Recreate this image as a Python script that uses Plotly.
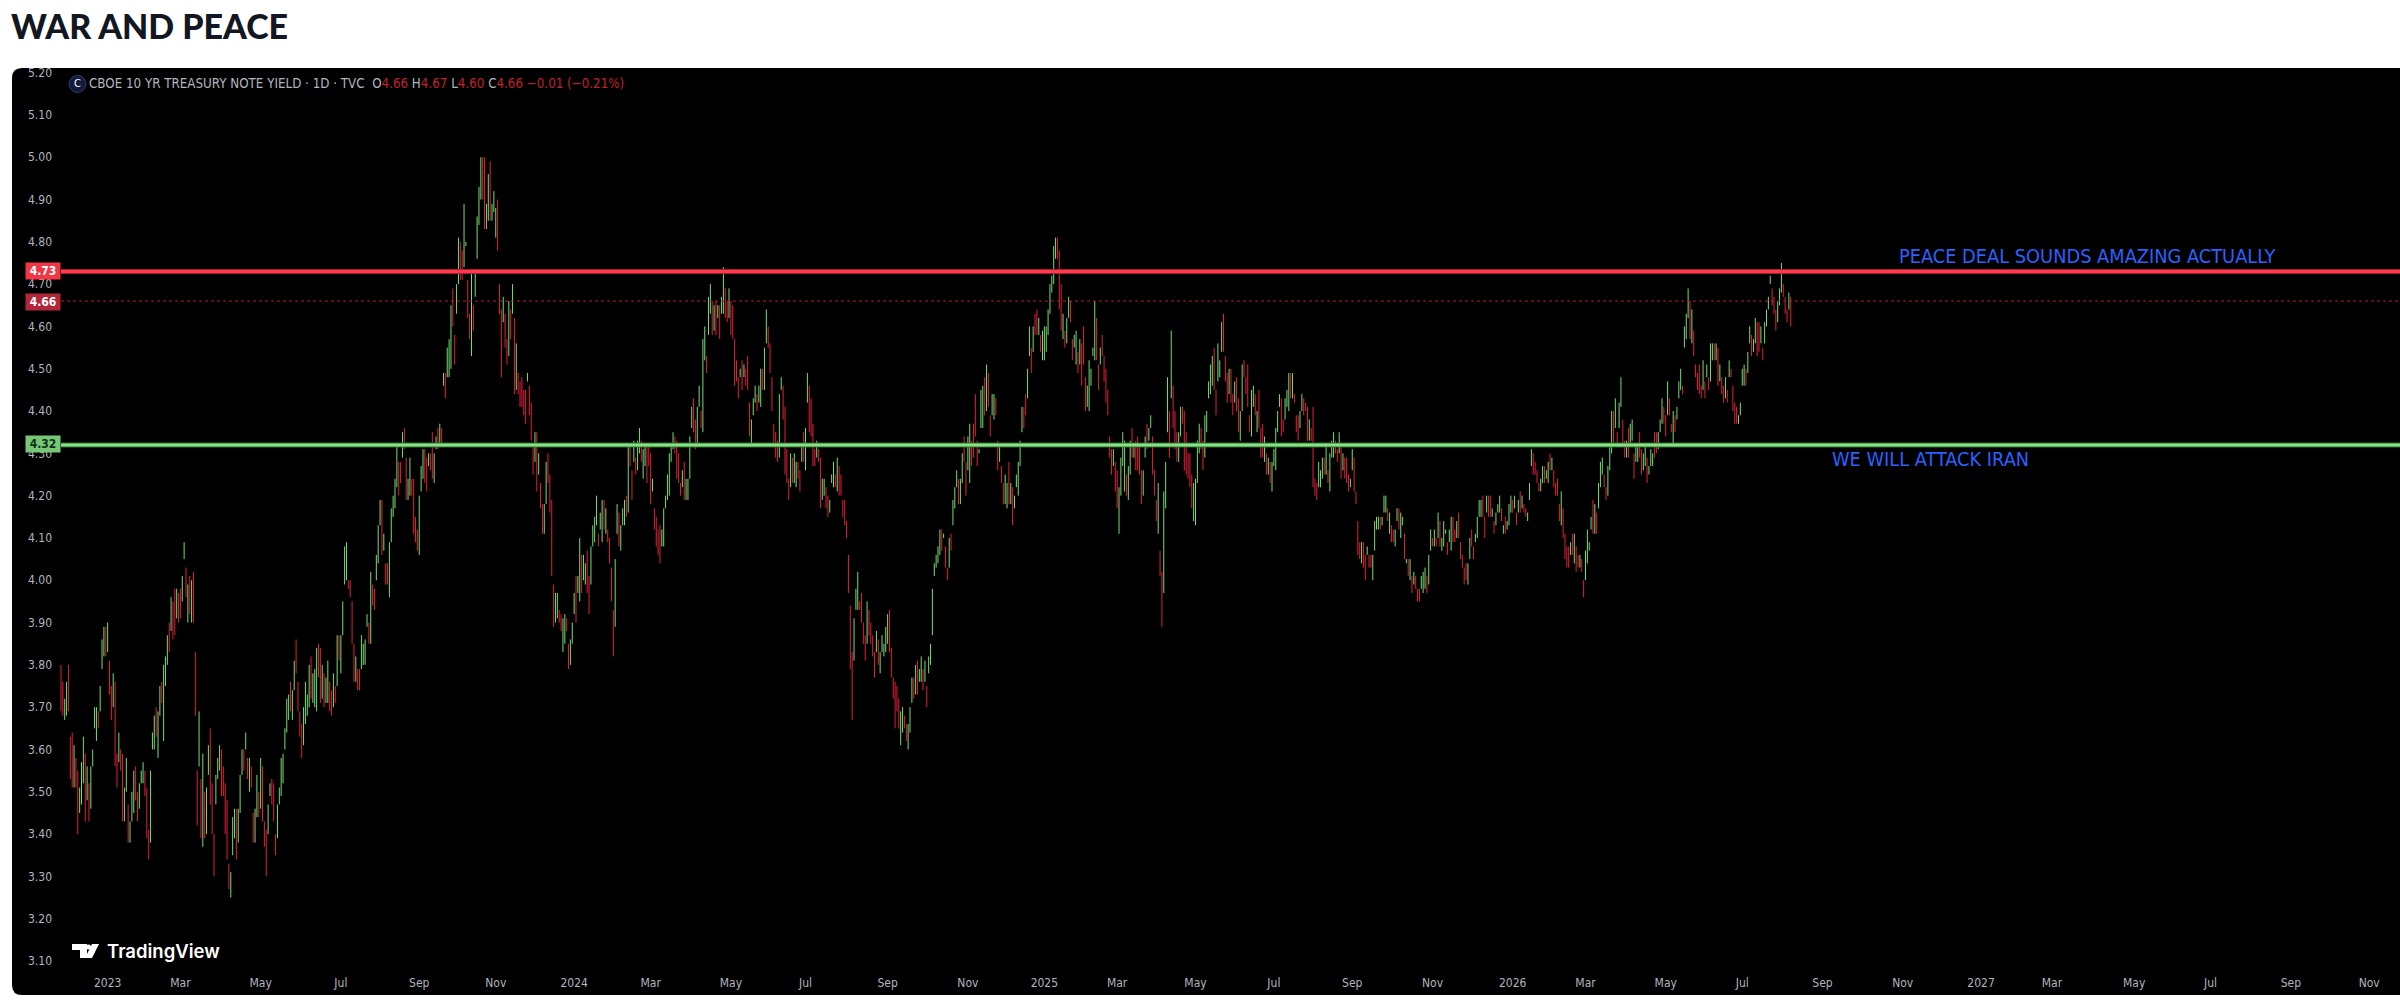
import plotly.graph_objects as go

# daily yield range in hundredths of a percent, one entry per session
highs = [
    380, 376, 372, 376, 380, 363, 364, 361, 358, 355, 351, 357, 363, 359, 356, 352, 356, 360, 370, 370,
    369, 375, 386, 389, 389, 390, 381, 375, 378, 376, 359, 364, 360, 359, 351, 358, 347, 343, 350, 355,
    356, 350, 352, 355, 357, 355, 351, 341, 355, 364, 368, 370, 369, 375, 376, 380, 382, 387, 390, 396,
    395, 398, 398, 397, 398, 401, 409, 403, 399, 401, 400, 402, 383, 355, 369, 353, 359, 350, 351, 361,
    365, 352, 340, 354, 358, 361, 360, 356, 352, 348, 333, 331, 344, 346, 346, 346, 354, 360, 360, 364,
    358, 358, 356, 345, 346, 354, 350, 358, 356, 343, 341, 347, 352, 353, 352, 340, 347, 351, 358, 359,
    365, 372, 373, 376, 374, 381, 386, 376, 369, 366, 370, 376, 373, 380, 382, 378, 379, 384, 385, 384,
    380, 378, 377, 381, 376, 374, 378, 375, 387, 387, 387, 395, 408, 409, 400, 400, 395, 385, 382, 379,
    379, 387, 385, 386, 392, 390, 402, 399, 398, 406, 413, 419, 419, 411, 404, 404, 409, 417, 420, 424,
    432, 428, 428, 435, 436, 429, 424, 429, 424, 424, 415, 412, 420, 427, 431, 431, 429, 430, 430, 435,
    430, 434, 436, 437, 436, 449, 449, 455, 457, 465, 469, 458, 470, 481, 480, 478, 489, 480, 471, 463,
    473, 465, 473, 486, 493, 500, 500, 500, 489, 496, 499, 489, 492, 488, 490, 470, 464, 467, 463, 457,
    466, 464, 470, 462, 456, 449, 447, 448, 445, 445, 449, 446, 442, 432, 435, 435, 430, 423, 418, 418,
    428, 430, 425, 419, 399, 397, 397, 393, 392, 391, 392, 391, 385, 386, 390, 397, 401, 401, 410, 406,
    406, 404, 407, 401, 408, 413, 415, 420, 411, 416, 419, 419, 417, 412, 410, 403, 393, 405, 418, 416,
    413, 417, 419, 420, 432, 432, 426, 433, 429, 433, 436, 433, 431, 432, 432, 432, 430, 424, 417, 415,
    412, 413, 412, 417, 420, 425, 430, 432, 435, 434, 433, 430, 423, 426, 428, 424, 424, 434, 441, 443,
    438, 441, 446, 440, 457, 460, 453, 467, 470, 466, 465, 466, 465, 465, 467, 474, 469, 466, 469, 466,
    465, 457, 452, 448, 450, 452, 451, 450, 453, 442, 438, 443, 446, 444, 446, 450, 450, 455, 464, 460,
    456, 448, 437, 435, 433, 444, 448, 446, 441, 431, 424, 430, 429, 430, 428, 428, 426, 432, 435, 436,
    449, 446, 443, 437, 431, 433, 431, 429, 424, 424, 422, 420, 419, 425, 428, 425, 429, 427, 425, 419,
    419, 414, 406, 394, 383, 391, 398, 402, 395, 397, 390, 387, 395, 393, 390, 387, 383, 388, 386, 383,
    387, 385, 389, 392, 393, 384, 377, 376, 375, 372, 369, 370, 368, 366, 366, 370, 377, 377, 380, 381,
    379, 382, 379, 381, 375, 382, 385, 398, 404, 406, 408, 412, 412, 411, 408, 403, 410, 411, 419, 422,
    426, 424, 424, 430, 434, 428, 434, 437, 433, 437, 444, 433, 431, 445, 446, 448, 451, 449, 439, 444,
    444, 443, 433, 432, 427, 423, 425, 423, 428, 423, 422, 420, 425, 428, 433, 441, 441, 444, 450, 460,
    455, 460, 463, 464, 462, 458, 459, 460, 460, 464, 470, 472, 479, 481, 481, 478, 470, 463, 459, 462,
    467, 466, 457, 458, 459, 454, 457, 456, 460, 448, 446, 452, 450, 455, 466, 462, 451, 455, 458, 453,
    450, 445, 434, 431, 431, 428, 426, 422, 429, 435, 433, 425, 427, 433, 436, 432, 433, 434, 432, 426,
    426, 434, 437, 436, 439, 434, 426, 419, 423, 407, 402, 421, 428, 448, 440, 459, 446, 440, 435, 435,
    441, 441, 440, 435, 430, 430, 425, 423, 424, 433, 437, 436, 433, 439, 440, 447, 451, 453, 455, 445,
    456, 452, 461, 463, 453, 449, 450, 450, 444, 447, 448, 443, 440, 451, 452, 448, 451, 439, 445, 446,
    444, 440, 445, 436, 437, 434, 430, 429, 428, 428, 431, 436, 440, 444, 443, 438, 443, 445, 449, 449,
    449, 444, 439, 439, 440, 444, 443, 442, 441, 438, 436, 441, 424, 423, 428, 426, 429, 429, 432, 426,
    430, 433, 435, 433, 431, 435, 432, 430, 429, 429, 425, 424, 431, 429, 421, 414, 409, 409, 409, 406,
    408, 406, 406, 406, 414, 415, 415, 415, 415, 420, 420, 417, 416, 413, 412, 412, 417, 417, 416, 415,
    411, 405, 405, 405, 401, 402, 401, 398, 398, 401, 402, 403, 401, 406, 412, 410, 412, 410, 416, 414,
    410, 414, 412, 409, 412, 415, 415, 412, 414, 416, 409, 406, 403, 404, 404, 410, 412, 408, 411, 415,
    419, 419, 420, 415, 420, 420, 420, 417, 414, 416, 418, 420, 417, 413, 415, 414, 418, 420, 419, 420,
    416, 419, 421, 420, 418, 417, 416, 423, 431, 430, 428, 426, 423, 424, 427, 427, 426, 428, 430, 429,
    426, 423, 424, 418, 421, 417, 411, 408, 408, 409, 411, 411, 408, 406, 406, 405, 400, 407, 412, 409,
    415, 419, 418, 416, 423, 428, 429, 425, 422, 427, 432, 440, 440, 443, 435, 442, 448, 438, 433, 433,
    436, 437, 438, 430, 432, 432, 435, 431, 430, 432, 429, 427, 431, 430, 435, 435, 435, 438, 443, 441,
    439, 447, 443, 437, 440, 439, 441, 447, 450, 446, 460, 463, 469, 466, 464, 459, 451, 449, 451, 446,
    452, 447, 451, 448, 456, 456, 456, 456, 455, 451, 448, 446, 448, 445, 452, 450, 446, 442, 441, 439,
    442, 450, 451, 450, 454, 460, 458, 457, 462, 461, 461, 460, 455, 461, 464, 467, 472, 469, 467, 464,
    466, 469, 475, 470, 467, 464, 468, 467,
]
lows = [
    369, 368, 367, 368, 369, 353, 351, 351, 351, 340, 345, 347, 352, 343, 348, 343, 346, 356, 365, 362,
    365, 369, 379, 382, 382, 383, 373, 367, 370, 356, 351, 357, 355, 343, 343, 350, 338, 338, 343, 345,
    348, 343, 346, 352, 352, 349, 339, 334, 338, 360, 360, 363, 358, 368, 371, 362, 375, 380, 383, 388,
    386, 387, 391, 390, 391, 395, 405, 396, 390, 392, 390, 390, 368, 342, 356, 339, 337, 339, 340, 354,
    347, 340, 330, 347, 353, 355, 349, 349, 340, 334, 327, 325, 335, 339, 334, 338, 345, 354, 355, 360,
    353, 350, 351, 338, 338, 344, 344, 346, 343, 337, 330, 340, 349, 347, 343, 335, 339, 347, 349, 352,
    360, 364, 367, 369, 367, 374, 378, 369, 363, 358, 361, 366, 368, 370, 372, 371, 370, 369, 377, 371,
    372, 370, 371, 371, 369, 368, 370, 371, 375, 381, 378, 387, 399, 400, 398, 396, 385, 376, 376, 374,
    374, 379, 380, 380, 389, 385, 385, 394, 393, 400, 404, 413, 406, 407, 399, 399, 396, 409, 415, 417,
    422, 420, 423, 429, 431, 419, 419, 420, 420, 411, 409, 407, 406, 421, 424, 423, 421, 427, 426, 424,
    423, 431, 431, 432, 432, 446, 443, 448, 448, 450, 460, 451, 463, 470, 471, 471, 474, 479, 462, 457,
    453, 459, 467, 476, 484, 490, 490, 483, 483, 485, 485, 485, 487, 481, 478, 463, 448, 461, 455, 451,
    453, 457, 463, 444, 445, 444, 441, 441, 439, 437, 447, 439, 433, 425, 428, 421, 425, 417, 411, 411,
    418, 423, 416, 401, 389, 390, 391, 390, 388, 383, 385, 388, 379, 380, 385, 392, 390, 397, 395, 397,
    400, 399, 397, 392, 399, 408, 409, 413, 408, 412, 409, 412, 411, 409, 404, 395, 382, 389, 411, 408,
    407, 413, 413, 415, 416, 427, 419, 428, 425, 426, 430, 428, 424, 427, 423, 427, 418, 421, 412, 408,
    406, 404, 408, 408, 417, 419, 420, 428, 431, 430, 424, 423, 420, 422, 419, 419, 419, 424, 436, 435,
    431, 432, 441, 436, 435, 452, 449, 458, 463, 458, 459, 458, 462, 457, 463, 463, 462, 461, 462, 458,
    457, 446, 447, 443, 448, 445, 448, 446, 445, 434, 432, 439, 442, 440, 442, 441, 445, 445, 456, 455,
    449, 440, 432, 429, 428, 429, 445, 438, 425, 423, 419, 422, 423, 423, 422, 424, 421, 428, 428, 426,
    442, 435, 434, 427, 427, 429, 428, 417, 419, 420, 417, 415, 416, 423, 422, 422, 421, 420, 420, 415,
    413, 410, 397, 379, 367, 381, 393, 393, 393, 390, 385, 381, 385, 387, 385, 382, 377, 383, 380, 378,
    383, 382, 383, 385, 383, 377, 372, 365, 369, 365, 361, 364, 365, 362, 360, 364, 371, 372, 373, 373,
    376, 376, 374, 376, 370, 378, 380, 387, 401, 403, 404, 406, 407, 410, 403, 400, 403, 407, 413, 417,
    422, 418, 418, 423, 428, 420, 426, 423, 427, 429, 434, 427, 430, 436, 436, 439, 440, 441, 434, 439,
    438, 439, 426, 428, 423, 418, 418, 417, 418, 418, 413, 417, 422, 420, 427, 435, 436, 439, 443, 453,
    449, 454, 458, 458, 458, 454, 452, 452, 454, 458, 463, 468, 470, 476, 476, 464, 459, 457, 455, 456,
    462, 461, 452, 455, 451, 449, 451, 446, 451, 440, 441, 440, 446, 453, 452, 452, 445, 451, 453, 447,
    442, 439, 429, 425, 427, 421, 417, 411, 420, 427, 421, 420, 419, 425, 429, 429, 426, 426, 425, 418,
    420, 429, 431, 433, 436, 425, 420, 414, 411, 401, 389, 397, 417, 435, 429, 443, 436, 431, 428, 428,
    434, 437, 426, 425, 424, 422, 417, 414, 413, 423, 430, 431, 426, 429, 435, 443, 444, 446, 445, 439,
    447, 448, 454, 454, 447, 442, 444, 442, 439, 442, 440, 435, 433, 440, 448, 444, 441, 435, 434, 441,
    439, 435, 436, 429, 429, 428, 425, 425, 423, 421, 427, 426, 435, 441, 434, 435, 438, 441, 440, 443,
    443, 442, 435, 433, 436, 440, 439, 440, 433, 433, 433, 422, 420, 419, 422, 422, 424, 425, 425, 423,
    421, 429, 429, 430, 428, 430, 424, 426, 424, 423, 421, 422, 426, 421, 418, 406, 405, 404, 403, 400,
    406, 403, 403, 400, 407, 412, 412, 412, 413, 416, 416, 414, 411, 409, 409, 408, 414, 412, 410, 413,
    405, 404, 401, 400, 397, 399, 398, 395, 395, 398, 397, 398, 397, 399, 407, 408, 408, 408, 410, 408,
    407, 408, 411, 406, 409, 407, 409, 409, 410, 410, 405, 403, 399, 400, 399, 405, 408, 405, 409, 410,
    415, 415, 415, 410, 416, 415, 415, 415, 411, 413, 416, 416, 414, 411, 411, 412, 413, 416, 416, 417,
    413, 416, 416, 417, 416, 415, 414, 419, 427, 425, 425, 423, 421, 421, 423, 423, 424, 423, 426, 426,
    422, 420, 420, 414, 413, 410, 405, 403, 403, 406, 406, 404, 402, 403, 403, 402, 396, 400, 404, 407,
    412, 411, 411, 411, 417, 422, 425, 422, 419, 420, 426, 430, 432, 436, 432, 436, 441, 432, 429, 429,
    429, 432, 433, 424, 428, 428, 429, 425, 426, 427, 423, 425, 427, 427, 429, 430, 431, 435, 437, 437,
    434, 439, 439, 435, 432, 435, 438, 443, 445, 444, 455, 457, 462, 457, 456, 453, 448, 445, 444, 443,
    445, 443, 448, 445, 447, 452, 452, 452, 446, 447, 444, 442, 443, 442, 448, 448, 440, 437, 437, 437,
    439, 446, 446, 446, 449, 456, 453, 454, 456, 453, 454, 456, 452, 456, 460, 464, 470, 465, 463, 459,
    461, 465, 468, 467, 463, 461, 464, 460,
]
# U = session closed up, D = session closed down
directions = (
    "DDUUDDDUDDUUUDUDUUUU" "DUUUDUDDUDDUDDUUDUUU" "DDUUUDDDUUUDUUDUUUDU" "DDUDDUUDUDUDDDUDUDUU"
    "DDDUUUDDDDDUUUDUUUDU" "DUDDUUDUDDDUUDDDUUUU" "UUUDUUDDDDUUUUDUUUDD" "UDUUDDUDUDUUUUDDDDUD"
    "DUUUUDUDDUUUDUDDUUUU" "UDDUDDUUDDDDUUUDDUDD" "UUDUDUDUUUDDUUDDUUDD" "UDUUUUDDUUDUUUDDDUDD"
    "UDUDUDDDDDUDDDUDUDDU" "UDDDDUUDDUUDDUUUDUUD" "UUDDUUUUDUUDUDDDDUUD" "UUUDUDDUDUUDUUDDDUDD"
    "DDUUUUUUUDDDDUDUUUUD" "DUUDUUDUUDUDUDUUDDUD" "DDDDUDUDDDUUUDUUDUUD" "DDDDDUUDDDDUDUUDDUDU"
    "UDDDDUDDUUDDUUUDUDDD" "DDDDDUUUDDDDUDDDDUDU" "UUUUDDDDDDUUDDUUUDUD" "UUDUDUUUUUUUDUDDUDUU"
    "UDUUDDUUDDDDUUUDUDDU" "UDDUDDUUDUDUUUUUDDUU" "DUDDUDUUUUUUUUDDDUDU" "UDDUUDUDDDUUUUUDDUDD"
    "DDDDUDDUUUUDUUDUDDDD" "UUDUUDDDUDDUUUDUDDDU" "UDDDDDDUUUUDDUUUUUDD" "UUUDDDUDDUDDUUDDDDUU"
    "DUDDDUDUDUUUUUDDUUUD" "UDDDUUDDDUDDDDUUUDUD" "UUUDDUDUDDDUUDDDDUDD" "UDDUUUUDUUUDUDDUUDUU"
    "DUDUDUDDDUUUDUUDUDUD" "UUUDUUDDUDDDDDUUDDUU" "UUDDUDDUDUUUDUDUUUDU" "DUDUDDUUUDDDDUUDUUDU"
    "DDDDUDDDDUDUDDUDDUUU" "UDUDUUUDDUUUDUDUUDDU" "DUUDUUDDUUDUUUDDUUUD" "DUDDUDUUUDUUUDUDDDDD"
    "UDUDUUDUDUDDUDUDDDDU" "UUUDUUDUUDDUDUUUUDDD" "UUUDDDUD"
)

y_ticks = [5.2, 5.1, 5.0, 4.9, 4.8, 4.7, 4.6, 4.5, 4.4, 4.3, 4.2, 4.1, 4.0, 3.9, 3.8, 3.7, 3.6, 3.5, 3.4, 3.3, 3.2, 3.1]
month_labels = ['2023', 'Mar', 'May', 'Jul', 'Sep', 'Nov', '2024', 'Mar', 'May', 'Jul', 'Sep', 'Nov',
                '2025', 'Mar', 'May', 'Jul', 'Sep', 'Nov', '2026', 'Mar', 'May', 'Jul', 'Sep', 'Nov',
                '2027', 'Mar', 'May', 'Jul', 'Sep', 'Nov']
# session number each month label sits on, future months carried on past the last bar
month_sessions = [25, 64, 107, 150, 192, 233, 275, 316, 359, 399, 443, 486, 527, 566, 608, 650, 692, 735,
                  778, 817, 860, 901, 944, 987, 1029, 1067, 1111, 1152, 1195, 1237]

last_price = 4.66
peace_level = 4.73
war_level = 4.32

BAR_UP = '#74dd74'
BAR_DOWN = '#e0203a'
AXIS_TEXT = '#b2b5be'
CHART_FONT = 'DejaVu Sans Condensed, Open Sans, sans-serif'

WIDTH, HEIGHT = 2400, 1000
PLOT_L, PLOT_T, PLOT_B = 58, 68, 965


def paper_x(px):
    return (px - PLOT_L) / (WIDTH - PLOT_L)


def paper_y(py):
    return (PLOT_B - py) / (PLOT_B - PLOT_T)


def pixel_path(points):
    return 'M ' + ' L '.join('{:.5f},{:.5f}'.format(paper_x(a), paper_y(b)) for a, b in points) + ' Z'


def range_trace(direction, color):
    xs, ys = [], []
    for i, (h, l, d) in enumerate(zip(highs, lows, directions)):
        if d == direction:
            xs += [i, i, None]
            ys += [l / 100, h / 100, None]
    return go.Scatter(x=xs, y=ys, mode='lines', line=dict(color=color, width=1),
                      hoverinfo='skip', showlegend=False)


def panel_shape():
    r = 10
    x0, x1, y0, y1 = paper_x(12), paper_x(WIDTH), paper_y(995), paper_y(68)
    rx, ry = r / (WIDTH - PLOT_L), r / (PLOT_B - PLOT_T)
    path = ('M {a},{y0} L {x1},{y0} L {x1},{y1} L {a},{y1} Q {x0},{y1} {x0},{b} '
            'L {x0},{c} Q {x0},{y0} {a},{y0} Z').format(a=x0 + rx, b=y1 - ry, c=y0 + ry, x0=x0, x1=x1, y0=y0, y1=y1)
    return dict(type='path', xref='paper', yref='paper', path=path,
                fillcolor='#000000', line=dict(width=0), layer='below')


def level_shapes(level, edge, core):
    shapes = []
    for color, width in ((edge, 5), (core, 3)):
        shapes.append(dict(type='line', xref='paper', yref='y', x0=paper_x(61), x1=1, y0=level, y1=level,
                           line=dict(color=color, width=width)))
    return shapes


def logo_shapes():
    white = dict(fillcolor='#ffffff', line=dict(width=0), xref='paper', yref='paper', type='path')
    return [
        dict(path=pixel_path([(72, 944), (87, 944), (87, 958), (80, 958), (80, 950), (72, 950)]), **white),
        dict(path=pixel_path([(92, 944), (99, 944), (92, 958), (85, 958)]), **white),
        dict(type='circle', xref='paper', yref='paper', x0=paper_x(86), x1=paper_x(91),
             y0=paper_y(949.5), y1=paper_y(944.5), fillcolor='#ffffff', line=dict(width=0)),
    ]


def price_label(text, bg, fg, center):
    return dict(xref='paper', yref='paper', x=paper_x(42.5), y=paper_y(center), xanchor='center', yanchor='middle',
                text='<b>{}</b>'.format(text), showarrow=False, bgcolor=bg, width=34, height=16, borderpad=0,
                font=dict(family=CHART_FONT, size=12, color=fg))


def header_text():
    grey = AXIS_TEXT
    red = '#c2202e'

    def span(t, c):
        return '<span style="color:{}">{}</span>'.format(c, t)

    return (span('CBOE 10 YR TREASURY NOTE YIELD · 1D · TVC &nbsp;', grey)
            + span('O', grey) + span('4.66 ', red)
            + span('H', grey) + span('4.67 ', red)
            + span('L', grey) + span('4.60 ', red)
            + span('C', grey) + span('4.66 −0.01 (−0.21%)', red))


shapes = [panel_shape()]
shapes.append(dict(type='line', xref='paper', yref='y', x0=paper_x(61), x1=1, y0=last_price, y1=last_price,
                   line=dict(color='#a8242f', width=1, dash='dot')))
shapes += level_shapes(peace_level, '#a81e2c', '#ff3a4e')
shapes += level_shapes(war_level, '#2f6e2f', '#84e484')
shapes += logo_shapes()
shapes.append(dict(type='circle', xref='paper', yref='paper', x0=paper_x(69), x1=paper_x(86),
                   y0=paper_y(92.5), y1=paper_y(75.5), fillcolor='#131a3a', line=dict(color='#2a3a7a', width=1)))

annotations = [
    dict(xref='paper', yref='paper', x=paper_x(87), y=paper_y(84), xanchor='left', yanchor='middle',
         text=header_text(), showarrow=False, font=dict(family=CHART_FONT, size=13.25, color=AXIS_TEXT)),
    dict(xref='paper', yref='paper', x=paper_x(77.5), y=paper_y(84), xanchor='center', yanchor='middle',
         text='C', showarrow=False, font=dict(family=CHART_FONT, size=11, color='#ffffff')),
    dict(xref='paper', yref='paper', x=paper_x(1897), y=paper_y(256), xanchor='left', yanchor='middle',
         text='PEACE DEAL SOUNDS AMAZING ACTUALLY', showarrow=False,
         font=dict(family=CHART_FONT, size=19.8, color='#2962ff')),
    dict(xref='paper', yref='paper', x=paper_x(1830), y=paper_y(459), xanchor='left', yanchor='middle',
         text='WE WILL ATTACK IRAN', showarrow=False,
         font=dict(family=CHART_FONT, size=19.8, color='#2962ff')),
    dict(xref='paper', yref='paper', x=paper_x(105), y=paper_y(951), xanchor='left', yanchor='middle',
         text='TradingView', showarrow=False,
         font=dict(family='Inter, sans-serif', size=18.5, weight=600, color='#ffffff')),
    price_label('4.73', '#f23645', '#ffffff', 271),
    price_label('4.66', '#b2283a', '#ffffff', 301.5),
    price_label('4.32', '#76c876', '#10301a', 444),
]

fig = go.Figure(data=[range_trace('U', BAR_UP), range_trace('D', BAR_DOWN)])
fig.update_layout(
    width=WIDTH,
    height=HEIGHT,
    margin=dict(l=PLOT_L, r=0, t=PLOT_T, b=HEIGHT - PLOT_B),
    paper_bgcolor='#ffffff',
    plot_bgcolor='rgba(0,0,0,0)',
    showlegend=False,
    title=dict(text='WAR AND PEACE', x=11 / WIDTH, xanchor='left', xref='container',
               y=1 - 27 / HEIGHT, yanchor='middle', yref='container',
               font=dict(family='Lato, sans-serif', size=34, weight=900, color='#131722')),
    xaxis=dict(range=[-1.6, 1253.5], tickmode='array', tickvals=month_sessions, ticktext=month_labels,
               showgrid=False, zeroline=False, showline=False, ticks='', ticklabelstandoff=9,
               tickfont=dict(family=CHART_FONT, size=12, color=AXIS_TEXT)),
    yaxis=dict(range=[3.0905, 5.211], tickmode='array', tickvals=y_ticks,
               ticktext=['{:.2f}'.format(t) for t in y_ticks],
               showgrid=False, zeroline=False, showline=False, ticks='', ticklabelstandoff=5,
               tickfont=dict(family=CHART_FONT, size=12, color=AXIS_TEXT)),
    shapes=shapes,
    annotations=annotations,
)

fig.write_html('out.html', config=dict(displayModeBar=False), post_script="document.body.style.margin = '0';")
